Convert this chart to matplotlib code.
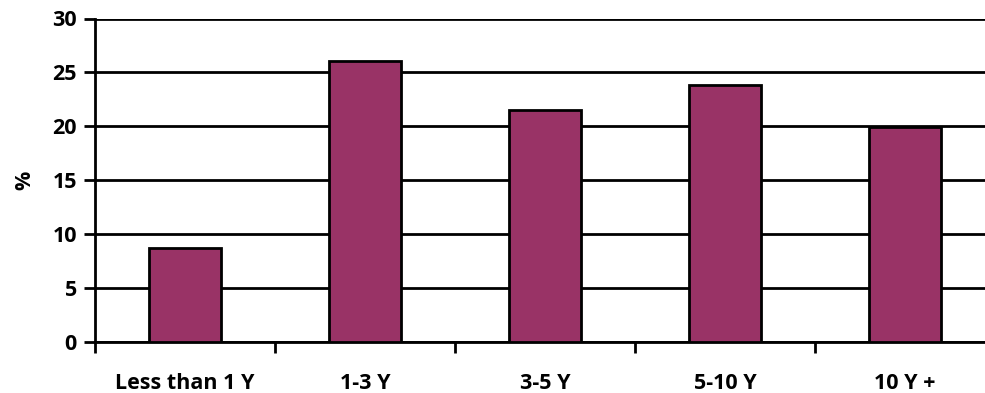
import matplotlib
matplotlib.use("Agg")
import matplotlib.pyplot as plt
import numpy as np

categories = ["Less than 1 Y", "1-3 Y", "3-5 Y", "5-10 Y", "10 Y +"]
values = [8.7, 26.1, 21.5, 23.8, 19.9]
yticks = [0, 5, 10, 15, 20, 25, 30]

BAR = "#993366"
FS = 15.5

plt.rcParams["font.family"] = ["Open Sans", "DejaVu Sans"]
plt.rcParams["font.weight"] = "bold"

fig = plt.figure(figsize=(9.85, 3.93), dpi=100)
# plot area runs past the right edge of the figure, as in the source sheet
ax = fig.add_axes([95 / 985, 1 - 342 / 393, 900 / 985, (342 - 18.5) / 393])

x = np.arange(len(categories))
ax.bar(x, values, width=0.4, color=BAR, edgecolor="black", linewidth=2, zorder=3)

ax.set_xlim(-0.5, len(categories) - 0.5)
ax.set_ylim(0, 30)
ax.set_yticks(yticks)
ax.yaxis.grid(True, color="black", linewidth=2)
ax.set_axisbelow(True)

# category labels centred under bars, tick marks on the boundaries
ax.set_xticks(x)
ax.set_xticklabels(categories, fontsize=FS, fontweight="bold")
ax.tick_params(axis="x", length=0, pad=22)
ax.set_xticks(np.arange(len(categories) + 1) - 0.5, minor=True)
ax.tick_params(axis="x", which="minor", length=8, width=2, direction="out")
ax.tick_params(axis="y", length=8, width=2, direction="out", labelsize=FS, pad=5)
for lbl in ax.get_yticklabels():
    lbl.set_fontweight("bold")

for side in ("top", "right"):
    ax.spines[side].set_visible(False)
for side in ("left", "bottom"):
    ax.spines[side].set_linewidth(2)

ax.set_ylabel("%", fontsize=FS, fontweight="bold", labelpad=12)

fig.savefig("out.png", dpi=100)
